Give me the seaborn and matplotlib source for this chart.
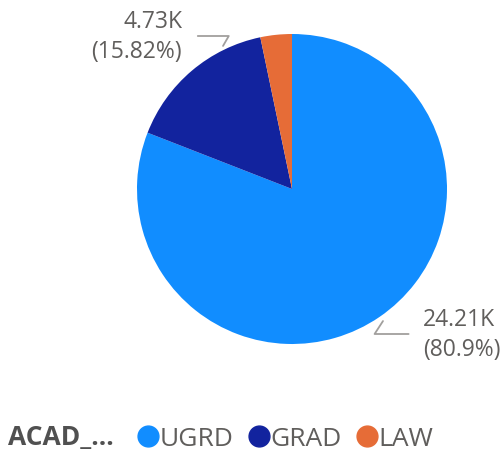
import numpy as np
import seaborn as sns
import matplotlib.pyplot as plt

categories = ["UGRD", "GRAD", "LAW"]
values = [24.21, 4.73, 0.98]  # thousands
pct_labels = ["80.9%", "15.82%", "3.28%"]
colors = ["#118DFF", "#12239E", "#E66C37"]
legend_title = "ACAD_..."

sns.set_theme(style="white")
plt.rcParams["font.family"] = ["Open Sans", "DejaVu Sans"]

W, H = 504, 456
fig = plt.figure(figsize=(W / 100, H / 100), dpi=100)

# pie placed in pixel terms: centre (292, 190), radius 155
cx, cy, r = 292, 190, 155
ax = fig.add_axes([(cx - r) / W, (H - cy - r) / H, 2 * r / W, 2 * r / H])
wedges, _ = ax.pie(values, colors=colors, startangle=90, counterclock=False,
                   radius=1.0, wedgeprops=dict(linewidth=0))
ax.set_xlim(-1, 1)
ax.set_ylim(-1, 1)
ax.set_aspect("equal")
ax.axis("off")

grey = "#605E5C"
fs = 16.5


def px(x, y):
    return x / W, 1 - y / H


# data labels for the two larger slices
for i, w in enumerate(wedges[:2]):
    ang = np.deg2rad((w.theta1 + w.theta2) / 2)
    ex = np.cos(ang)
    text = f"{values[i]:.2f}K\n({pct_labels[i]})"
    if ex < 0:
        # GRAD: label upper left
        ax.annotate(text, xy=(-0.445, 0.923), xycoords="data",
                    xytext=px(182, 37), textcoords="figure fraction",
                    ha="right", va="center", fontsize=fs, color=grey,
                    linespacing=1.35,
                    arrowprops=dict(arrowstyle="-", color="#A19F9D", lw=1.3,
                                    shrinkA=9, shrinkB=0,
                                    connectionstyle="angle,angleA=0,angleB=60,rad=0"))
    else:
        ax.annotate(text, xy=(0.587, -0.852), xycoords="data",
                    xytext=px(423, 335), textcoords="figure fraction",
                    ha="left", va="center", fontsize=fs, color=grey,
                    linespacing=1.35,
                    arrowprops=dict(arrowstyle="-", color="#A19F9D", lw=1.3,
                                    shrinkA=8, shrinkB=0,
                                    connectionstyle="angle,angleA=180,angleB=57,rad=0"))

# legend
fig.text(*px(8, 438), legend_title, fontsize=19, fontweight="bold",
         color="#505050", ha="left", va="center")
handles = [plt.Line2D([], [], marker="o", linestyle="", markersize=15,
                      markerfacecolor=c, markeredgecolor=c) for c in colors]
leg = fig.legend(handles, categories, loc="center left",
                 bbox_to_anchor=px(127, 440), ncol=3, frameon=False,
                 fontsize=19, handlelength=0.6, handletextpad=0.12,
                 columnspacing=0.68, borderpad=0)
for t in leg.get_texts():
    t.set_color(grey)

fig.savefig("out.png", dpi=100)
